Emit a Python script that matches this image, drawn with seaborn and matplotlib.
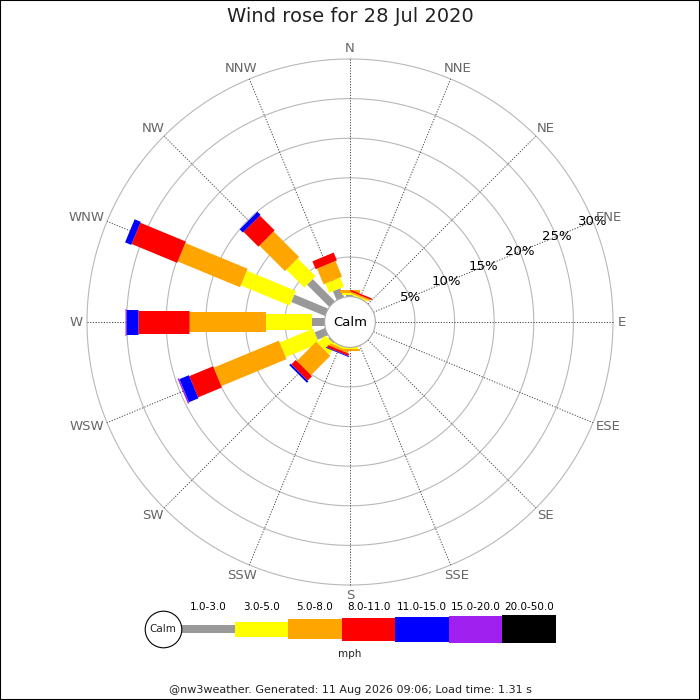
import numpy as np
import matplotlib
matplotlib.use("Agg")
import matplotlib.pyplot as plt
import seaborn as sns
from matplotlib.patches import Rectangle

# ---------------- data ----------------
directions = ['N', 'NNE', 'NE', 'ENE', 'E', 'ESE', 'SE', 'SSE',
              'S', 'SSW', 'SW', 'WSW', 'W', 'WNW', 'NW', 'NNW']
speed_bins = ['1.0-3.0', '3.0-5.0', '5.0-8.0', '8.0-11.0',
              '11.0-15.0', '15.0-20.0', '20.0-50.0']
bin_colors = ['#999999', '#ffff00', '#ffa500', '#ff0000',
              '#0000ff', '#a020f0', '#000000']
# percent of time per direction, per speed bin
pct_1_3   = [0.15, 0.0, 0, 0, 0, 0, 0, 0, 0.0, 0.0, 0.20, 1.43, 1.59, 4.62, 3.96, 1.21]
pct_3_5   = [0.30, 0.2, 0, 0, 0, 0, 0, 0, 0.15, 0.25, 1.39, 4.57, 5.81, 6.69, 3.19, 1.26]
pct_5_8   = [0.35, 0.2, 0, 0, 0, 0, 0, 0, 0.30, 0.30, 3.44, 8.91, 9.72, 8.51, 4.55, 2.15]
pct_8_11  = [0.0, 0.2, 0, 0, 0, 0, 0, 0, 0.0, 0.30, 0.79, 3.25, 6.40, 6.22, 2.64, 1.07]
pct_11_15 = [0.0, 0.0, 0, 0, 0, 0, 0, 0, 0.0, 0.11, 0.25, 1.30, 1.52, 0.84, 0.57, 0.0]
pct_15_20 = [0.0, 0.0, 0, 0, 0, 0, 0, 0, 0.0, 0.0, 0.0, 0.19, 0.16, 0.0, 0.0, 0.0]
pct_20_50 = [0.0] * 16
ring_pcts = [5, 10, 15, 20, 25, 30]
ring_labels = ['5%', '10%', '15%', '20%', '25%', '30%']
title = 'Wind rose for 28 Jul 2020'
footer = '@nw3weather. Generated: 11 Aug 2026 09:06; Load time: 1.31 s'

series = [pct_1_3, pct_3_5, pct_5_8, pct_8_11, pct_11_15, pct_15_20, pct_20_50]

# ---------------- style ----------------
sns.set_theme(style='white')
plt.rcParams['font.family'] = ['DejaVu Sans']

DPI = 100
PX2PT = 72.0 / DPI
bar_px = [8, 16, 20, 23, 25, 27, 28]     # bar thickness per speed bin
CALM_R = 3.2                               # calm circle radius, in % units
RMAX = CALM_R + 30
R_PX = 263.0
CX, CY = 350.0, 322.0

fig = plt.figure(figsize=(7, 7), dpi=DPI)
fig.patch.set_facecolor('white')
ax = fig.add_axes([(CX - R_PX) / 700, (700 - CY - R_PX) / 700,
                   2 * R_PX / 700, 2 * R_PX / 700], projection='polar')
ax.set_theta_zero_location('N')
ax.set_theta_direction(-1)
ax.set_ylim(0, RMAX)
ax.set_xticks([])
ax.set_yticks([])
ax.grid(False)
ax.spines['polar'].set_visible(False)
ax.set_facecolor('white')

theta_full = np.linspace(0, 2 * np.pi, 721)
angles = np.deg2rad(np.arange(16) * 22.5)

# rings
for p in ring_pcts:
    ax.plot(theta_full, np.full_like(theta_full, CALM_R + p), color='#b8b8b8',
            lw=0.8, zorder=1, clip_on=False)
# spokes
for a in angles:
    ax.plot([a, a], [CALM_R, RMAX], color='#444444', lw=0.7,
            linestyle=(0, (1.2, 1.6)), zorder=1.5, clip_on=False)

# stacked bars
for i, a in enumerate(angles):
    base = CALM_R
    for k, s in enumerate(series):
        v = s[i]
        if v <= 0:
            continue
        ax.plot([a, a], [base, base + v], color=bin_colors[k],
                lw=bar_px[k] * PX2PT, solid_capstyle='butt', zorder=3 + k * 0.01)
        base += v

# calm circle
ax.fill(theta_full, np.full_like(theta_full, CALM_R), facecolor='white',
        edgecolor='#aaaaaa', lw=0.8, zorder=6)
ax.text(0, 0, 'Calm', ha='center', va='center', fontsize=9.5, color='black', zorder=7)

# radial labels along ENE
lab_ang = np.deg2rad(67.5)
for p, lab in zip(ring_pcts, ring_labels):
    ax.text(lab_ang, CALM_R + p, lab, ha='center', va='center', fontsize=9.5,
            color='black', zorder=8, clip_on=False)

# compass labels
anchor_r = CALM_R + (268 - 25.4) / 7.92
comp_texts = []
for a, d in zip(angles, directions):
    t = ax.annotate(d, xy=(a, anchor_r), xycoords='data', xytext=(0, 0),
                    textcoords='offset points', ha='center', va='center',
                    fontsize=9.5, color='#666666', annotation_clip=False, zorder=8)
    comp_texts.append((t, a))

# title & footer
fig.text(0.5, 1 - 17 / 700, title, ha='center', va='center', fontsize=14, color='#222222')
fig.text(0.5, 1 - 690 / 700, footer, ha='center', va='center', fontsize=8, color='#222222')
fig.text(0.5, 1 - 654 / 700, 'mph', ha='center', va='center', fontsize=7.5, color='#222222')

# legend
seg_px = 53.57
lx0, lx1 = 140.0, 560.0
ly_top, ly_bot = 598.0, 666.0
ycen = 629.2
lax = fig.add_axes([lx0 / 700, (700 - ly_bot) / 700, (lx1 - lx0) / 700, (ly_bot - ly_top) / 700])
lax.set_xlim((lx0 - 181) / seg_px, (lx1 - 181) / seg_px)
lax.set_ylim(ly_bot - ycen, ly_top - ycen)
lax.axis('off')
idx = np.arange(len(speed_bins))
heights = np.array(bar_px, dtype=float)
heights[1] = 15
lax.bar(idx, heights, bottom=-heights / 2, width=1.0, align='edge',
        color=bin_colors, edgecolor='none', zorder=2)
for i, lab in enumerate(speed_bins):
    lax.text(i + 0.5, 607 - ycen, lab, ha='center', va='center', fontsize=7.5, color='black')
lax.scatter([(163 - 181) / seg_px], [0], s=(36.6 * PX2PT) ** 2, facecolor='white',
            edgecolor='black', lw=0.8, zorder=3)
lax.text((163 - 181) / seg_px, 0, 'Calm', ha='center', va='center', fontsize=7.5, zorder=4)

# frame
fig.add_artist(Rectangle((0, 0), 1, 1, transform=fig.transFigure, fill=False,
                         edgecolor='black', lw=1.5))

# align compass labels outward
fig.canvas.draw()
renderer = fig.canvas.get_renderer()
for t, a in comp_texts:
    bb = t.get_window_extent(renderer)
    w = bb.width * PX2PT
    h = bb.height * PX2PT
    t.xyann = (0.5 * w * np.sin(a) * 0.95, 0.5 * h * np.cos(a) * 0.9)

fig.savefig('out.png', dpi=DPI, facecolor='white')
